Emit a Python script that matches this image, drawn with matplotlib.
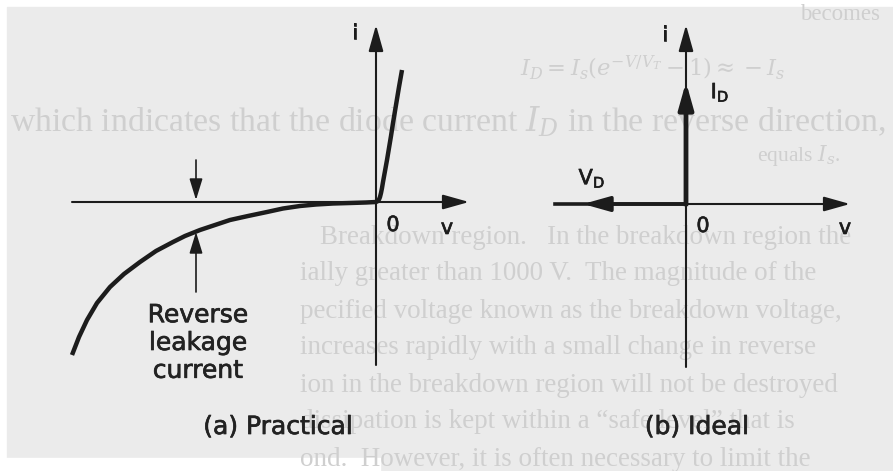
import matplotlib
matplotlib.use("Agg")
import matplotlib.pyplot as plt
import matplotlib.patheffects as pe
from matplotlib.patches import Rectangle

W, H = 893, 471
INK = "#1c1c1c"
PAGE = "#ebebeb"
FADED = "#cfcfcf"

# ---- curve data (v, i) for the practical diode, origin at (0, 0) ----
fwd_v = [0, 2, 3, 4, 5, 6, 7, 9, 11, 13, 15, 17, 20, 23, 26]
fwd_i = [0, 1, 2.5, 5, 9, 14, 20, 31, 42, 54, 66, 79, 97, 115, 132]
rev_v = [0, -10, -26, -43, -60, -76, -93, -109, -128, -146, -161, -176,
         -191, -203, -220, -236, -252, -266, -279, -289, -297, -304]
rev_i = [0, -0.5, -1, -1.5, -2.5, -4, -6.5, -10, -14, -18, -23, -28,
         -34, -40, -49, -60, -72, -85, -101, -118, -135, -153]

# axis extents (v min, v max, i min, i max) for each panel
axes_a = (-304, 93, -163, 177)
axes_b = (-131, 164, -163, 179)
# ideal diode arrows
id_tip = 122     # forward current arrow tip
vd_tip = -103    # reverse voltage arrow tip
# leakage markers
leak_v = -180
leak_top = (42, 2)
leak_bot = (-90, -30)

panel_titles = ["(a) Practical", "(b) Ideal"]
leak_label = "Reverse\nleakage\ncurrent"

# faded body text of the page
# header lines: (text, left x, right x, centre y)
page_head = [
    ("becomes", 800, 880, 14),
    (r"$I_D = I_s(e^{-V/V_T} - 1) \approx -I_s$", 520, 785, 68),
    (r"which indicates that the diode current $I_D$ in the reverse direction,", 10, 885, 122),
    (r"equals $I_s$.", 757, 840, 155),
]
# paragraph lines: (text, left x, centre y), cut at the page edge
page_body = [
    ("Breakdown region.   In the breakdown region the reverse voltage", 320, 237),
    ("ially greater than 1000 V.  The magnitude of the reverse voltage", 300, 274),
    (r"pecified voltage known as the breakdown voltage, $V_{BR}$.  The", 300, 311),
    (r"increases rapidly with a small change in reverse voltage beyond $V_{BR}$", 300, 348),
    ("ion in the breakdown region will not be destroyed provided", 300, 385),
    ("dissipation is kept within a \u201csafe level\u201d that is specified in the manufacturer", 300, 422),
    ("ond.  However, it is often necessary to limit the reverse current", 300, 459),
]

plt.rcParams["mathtext.fontset"] = "dejavuserif"
fig = plt.figure(figsize=(W / 100, H / 100), dpi=100)
fig.patch.set_facecolor("white")

# ---- page background with faded body text ----
bg = fig.add_axes([0, 0, 1, 1])
bg.set_xlim(0, W)
bg.set_ylim(H, 0)
bg.axis("off")
bg.add_patch(Rectangle((7, 7), W - 7, H - 7, color=PAGE, zorder=0))
bg.add_patch(Rectangle((0, 458), 380, H - 458, color="white", zorder=0))

renderer = fig.canvas.get_renderer()
faded = dict(ha="left", va="center", color=FADED, family="Liberation Serif", zorder=1)

sizes = []
for s, x0, x1, y in page_head:
    t = bg.text(x0, y, s, fontsize=20, **faded)
    fs = 20 * (x1 - x0) / t.get_window_extent(renderer).width
    t.set_fontsize(fs)
    sizes.append(fs)
body_size = sizes[2] * 0.8

for s, x, y in page_body:
    words = s.split(" ")
    t = bg.text(x, y, s, fontsize=body_size, **faded)
    # drop whole words that would run past the page edge
    while t.get_window_extent(renderer).x1 > W and len(words) > 1:
        words.pop()
        t.set_text(" ".join(words).rstrip())


def panel(origin_x, origin_y):
    ax = fig.add_axes([0, 0, 1, 1])
    ax.set_xlim(-origin_x, W - origin_x)
    ax.set_ylim(-(H - origin_y), origin_y)
    ax.axis("off")
    ax.patch.set_alpha(0)
    return ax


def arrow(ax, tail, tip, lw=1.5, hl=1.6, hw=0.45):
    ax.annotate("", xy=tip, xytext=tail,
                arrowprops=dict(arrowstyle=f"-|>,head_length={hl},head_width={hw}",
                                lw=lw, color=INK, mutation_scale=10,
                                shrinkA=0, shrinkB=0))


heavy = [pe.withStroke(linewidth=0.5, foreground="#222222")]
lab = dict(color=INK, family="DejaVu Sans", fontsize=15, ha="center", va="center",
           path_effects=heavy)
big = dict(color="#222222", family="DejaVu Sans", fontsize=18, ha="center", va="center",
           path_effects=heavy)

# ---- (a) practical characteristic ----
a = panel(376, 202)
vmin, vmax, imin, imax = axes_a
arrow(a, (vmin, 0), (vmax, 0))
arrow(a, (0, imin), (0, imax))
a.plot(fwd_v, fwd_i, color=INK, lw=3.2, solid_capstyle="butt", solid_joinstyle="round")
a.plot(rev_v, rev_i, color=INK, lw=3.2, solid_capstyle="butt", solid_joinstyle="round")
arrow(a, (leak_v, leak_top[0]), (leak_v, leak_top[1]), lw=1.2, hl=1.3, hw=0.4)
arrow(a, (leak_v, leak_bot[0]), (leak_v, leak_bot[1]), lw=1.2, hl=1.3, hw=0.4)
a.text(-21, 169, "i", **lab)
a.text(17, -23, "0", **lab)
a.text(71, -26, "v", **lab)
a.text(-178, -141, leak_label, linespacing=1.2, **big)
a.text(-98, -225, panel_titles[0], **big)

# ---- (b) ideal characteristic ----
b = panel(686, 204)
vmin, vmax, imin, imax = axes_b
arrow(b, (0, 0), (vmax, 0))
b.plot([vmin, 0], [0, 0], color=INK, lw=2.6)
arrow(b, (0, 0), (vd_tip, 0), lw=2.6)
arrow(b, (0, imin), (0, imax))
b.plot([0, 0], [0, id_tip - 12], color=INK, lw=3.2)
arrow(b, (0, 0), (0, id_tip), lw=3.2)
b.text(-21, 169, "i", **lab)
b.text(34, 112, r"$\mathregular{I_D}$", **lab)
b.text(-94, 26, r"$\mathregular{V_D}$", **lab)
b.text(17, -22, "0", **lab)
b.text(159, -24, "v", **lab)
b.text(11, -223, panel_titles[1], **big)

fig.savefig("out.png", dpi=100)
